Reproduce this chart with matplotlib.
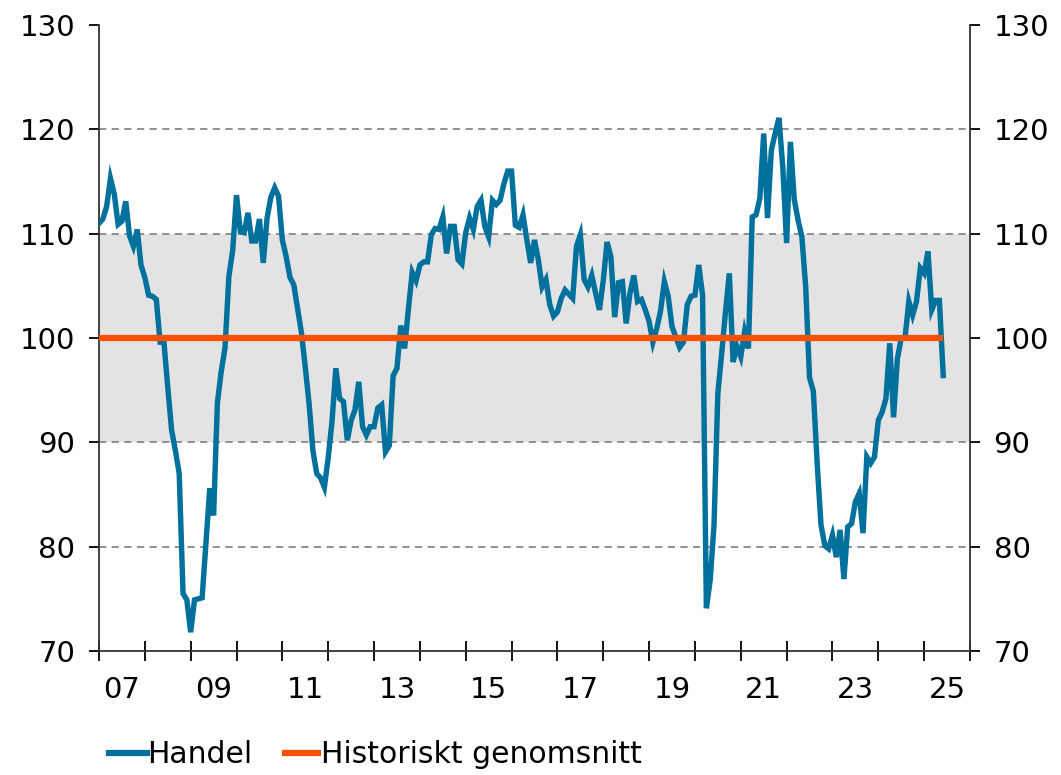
import numpy as np
import matplotlib
matplotlib.use("Agg")
import matplotlib.pyplot as plt
import matplotlib.ticker as ticker

# Monthly index, Jan 2007 - Jun 2025
start_year = 2007
handel = [
    # 2007
    111.0, 111.4, 112.6, 115.3, 113.8, 110.9, 111.2, 113.1, 109.8, 108.8, 110.4, 107.0,
    # 2008
    105.8, 104.1, 104.0, 103.7, 99.6, 99.6, 95.3, 91.2, 89.2, 87.0, 75.5, 74.9,
    # 2009
    71.8, 74.9, 75.0, 75.1, 80.3, 85.6, 83.0, 93.8, 96.8, 99.1, 105.9, 108.4,
    # 2010
    113.7, 110.2, 110.1, 112.0, 109.3, 109.3, 111.4, 107.2, 111.5, 113.5, 114.4, 113.6,
    # 2011
    109.4, 107.8, 105.8, 105.1, 102.8, 100.5, 97.2, 93.7, 89.2, 87.0, 86.6, 85.7,
    # 2012
    88.5, 92.0, 97.1, 94.2, 93.9, 90.2, 92.1, 93.1, 95.8, 91.5, 90.7, 91.5,
    # 2013
    91.5, 93.3, 93.6, 89.1, 89.7, 96.4, 97.1, 101.2, 99.0, 102.8, 106.3, 105.5,
    # 2014
    107.0, 107.3, 107.3, 109.9, 110.5, 110.4, 111.6, 108.1, 110.7, 110.7, 107.5, 107.1,
    # 2015
    110.1, 111.5, 110.4, 112.6, 113.2, 110.7, 109.7, 113.2, 112.8, 113.2, 114.8, 116.0,
    # 2016
    116.0, 110.8, 110.6, 111.8, 109.4, 107.2, 109.4, 107.5, 104.9, 105.6, 103.2, 102.1,
    # 2017
    102.5, 103.8, 104.6, 104.2, 103.8, 108.8, 109.9, 105.6, 104.9, 106.0, 104.3, 102.7,
    # 2018
    105.5, 109.2, 107.8, 102.0, 105.3, 105.4, 101.4, 104.3, 106.0, 103.5, 103.7, 102.7,
    # 2019
    101.6, 99.6, 100.9, 102.6, 105.4, 104.0, 101.1, 100.1, 99.1, 99.6, 103.2, 104.0,
    # 2020
    104.1, 107.0, 104.1, 74.1, 76.8, 82.1, 94.7, 98.5, 102.5, 106.2, 97.7, 99.2,
    # 2021
    98.2, 100.6, 99.0, 111.6, 111.8, 113.4, 119.6, 111.5, 118.0, 119.6, 121.1, 116.4,
    # 2022
    109.1, 118.8, 113.3, 111.3, 109.7, 104.9, 96.2, 94.9, 88.0, 82.1, 80.1, 79.8,
    # 2023
    81.1, 79.0, 81.6, 76.9, 81.9, 82.2, 84.3, 85.1, 81.3, 88.6, 88.0, 88.6,
    # 2024
    92.1, 92.9, 94.2, 99.5, 92.4, 98.0, 100.0, 100.0, 103.5, 102.2, 103.5, 106.7,
    # 2025
    106.2, 108.3, 102.7, 103.6, 103.6, 96.4,
]
hist_avg = 100.0
band = (90, 110)
year_labels = ["07", "09", "11", "13", "15", "17", "19", "21", "23", "25"]

blue = "#00709c"
orange = "#ff5000"
fs = 21

x = start_year + np.arange(len(handel)) / 12.0

fig = plt.figure(figsize=(10.61, 7.75), dpi=100)
ax = fig.add_axes([0.0933, 0.16, 0.8209, 0.8077])

# Grey band and dashed grid
ax.axhspan(band[0], band[1], color="#e3e3e3", zorder=0, lw=0)
for g in [80, 90, 110, 120]:
    ax.axhline(g, color="#888888", lw=1.3, ls=(0, (4, 3)), zorder=1)

ax.plot(x, handel, color=blue, lw=3.9, zorder=3, label="Handel",
        solid_joinstyle="miter")
ax.plot([x[0], x[-1]], [hist_avg, hist_avg], color=orange, lw=4.5, zorder=4,
        label="Historiskt genomsnitt", solid_capstyle="butt")

ax.set_xlim(2007, 2026)
ax.set_ylim(70, 130)

# x axis: tick marks at year starts, labels at mid-year every second year
ax.xaxis.set_major_locator(ticker.FixedLocator(np.arange(2007, 2027)))
ax.xaxis.set_major_formatter(ticker.NullFormatter())
ax.xaxis.set_minor_locator(ticker.FixedLocator(np.arange(2007.5, 2026, 2)))
ax.xaxis.set_minor_formatter(ticker.FixedFormatter(year_labels))
ax.tick_params(axis="x", which="major", direction="inout", length=14, width=1.3)
ax.tick_params(axis="x", which="minor", length=0, pad=18, labelsize=fs)

ax.set_yticks(np.arange(70, 131, 10))
ax.tick_params(axis="y", which="major", direction="out", length=7, width=1.3,
               labelsize=fs, pad=10, right=True, labelright=True)

for side in ["left", "right", "bottom"]:
    ax.spines[side].set_linewidth(1.3)
    ax.spines[side].set_color("#333333")
ax.spines["top"].set_visible(False)

leg = fig.legend(loc="lower left", bbox_to_anchor=(0.077, -0.027), ncol=2,
                 frameon=False, fontsize=fs + 0.5, handlelength=1.3,
                 handletextpad=0.0, columnspacing=1.0)
for h in leg.get_lines():
    h.set_linewidth(4.5)

fig.savefig("out.png", dpi=100)
